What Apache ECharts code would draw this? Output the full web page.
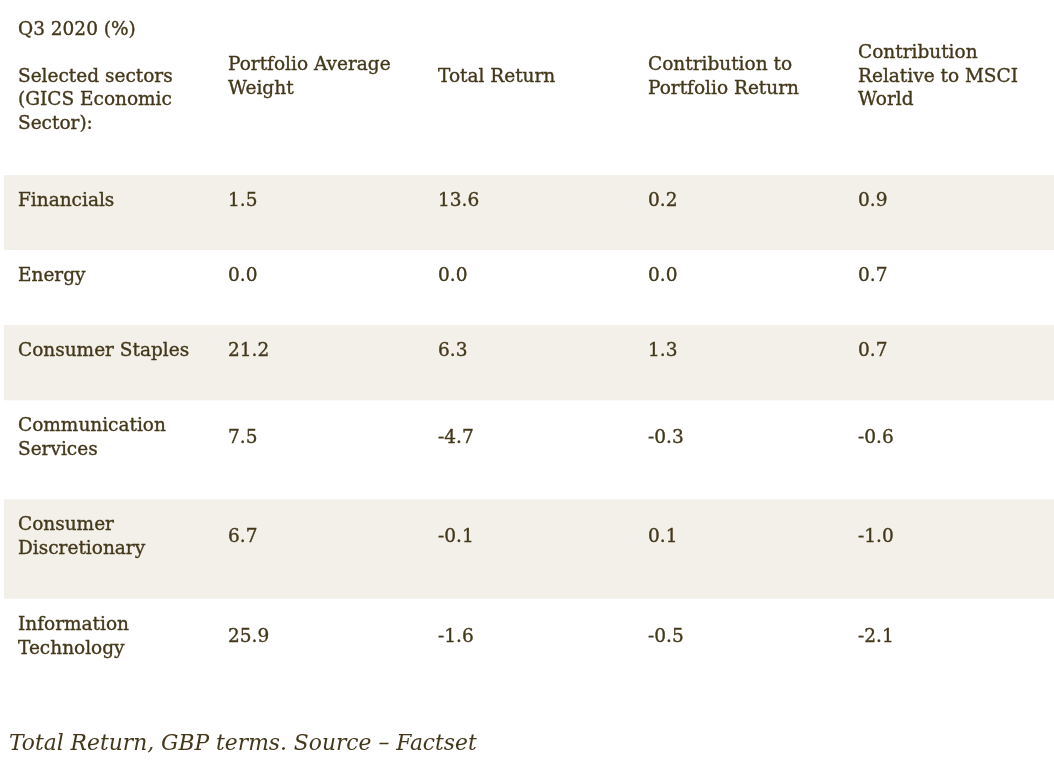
<!DOCTYPE html>
<html>
<head>
<meta charset="utf-8">
<script src="https://cdn.jsdelivr.net/npm/echarts@6/dist/echarts.min.js"></script>
<style>
html,body{margin:0;padding:0;background:#ffffff;}
#chart{width:1054px;height:774px;}
</style>
</head>
<body>
<div id="chart"></div>
<script>
// ---- data ----
const periodLabel = 'Q3 2020 (%)';
const columnHeaders = [
  'Selected sectors\n(GICS Economic\nSector):',
  'Portfolio Average\nWeight',
  'Total Return',
  'Contribution to\nPortfolio Return',
  'Contribution\nRelative to MSCI\nWorld'
];
const sectors = [
  'Financials',
  'Energy',
  'Consumer Staples',
  'Communication\nServices',
  'Consumer\nDiscretionary',
  'Information\nTechnology'
];
const avgWeight          = [1.5, 0.0, 21.2, 7.5, 6.7, 25.9];
const totalReturn        = [13.6, 0.0, 6.3, -4.7, -0.1, -1.6];
const contribToPortfolio = [0.2, 0.0, 1.3, -0.3, 0.1, -0.5];
const contribRelative    = [0.9, 0.7, 0.7, -0.6, -1.0, -2.1];
const footnote = 'Total Return, GBP terms. Source \u2013 Factset';

// ---- styling ----
const FONT = '"DejaVu Serif", serif';
const INK = '#43371a';
const BAND = '#f3f0e9';
const FS = 18.5;
const LH = 24;
const HEAD_LH = 23.5;
const PAD_X = 14;
const PAD_TOP = 14;
const STROKE = 0.35;

const nCols = columnHeaders.length;
const lineCount = s => s.split('\n').length;
const rowUnits = sectors.map(s => lineCount(s) + 2.1);
let acc = 0;
const rowStart = rowUnits.map(u => { const s = acc; acc += u; return s; });
const totalUnits = acc;

const valueCols = [avgWeight, totalReturn, contribToPortfolio, contribRelative];
const tableData = sectors.map((s, i) => [i, rowStart[i], rowUnits[i]]);
const headerData = columnHeaders.map((h, c) => [c]);

const textBase = {
  fill: INK, fontFamily: FONT, fontSize: FS,
  stroke: INK, lineWidth: STROKE
};

const chart = echarts.init(document.getElementById('chart'), null, {renderer: 'canvas'});
chart.setOption({
  animation: false,
  backgroundColor: '#ffffff',
  title: {
    text: footnote,
    left: 9,
    top: 730,
    padding: 0,
    textStyle: {
      fontFamily: FONT, fontStyle: 'italic', fontWeight: 'normal',
      fontSize: 21.8, color: INK, lineHeight: 28
    }
  },
  grid: {left: 4, right: -6, top: 175, bottom: 76},
  xAxis: {type: 'value', min: 0, max: nCols, show: false},
  yAxis: {type: 'value', min: 0, max: totalUnits, inverse: true, show: false},
  series: [
    {
      type: 'custom',
      silent: true,
      data: tableData,
      renderItem(params, api) {
        const i = api.value(0);
        const y0 = api.coord([0, api.value(1)])[1];
        const y1 = api.coord([0, api.value(1) + api.value(2)])[1];
        const cs = params.coordSys;
        const children = [];
        if (i % 2 === 0) {
          children.push({
            type: 'rect',
            shape: {x: cs.x, y: y0, width: cs.width, height: y1 - y0},
            style: {fill: BAND}
          });
        }
        const lines = lineCount(sectors[i]);
        children.push({
          type: 'text',
          style: Object.assign({}, textBase, {
            text: sectors[i],
            x: api.coord([0, 0])[0] + PAD_X,
            y: y0 + PAD_TOP,
            lineHeight: LH,
            align: 'left', verticalAlign: 'top'
          })
        });
        const midY = y0 + PAD_TOP + lines * LH / 2;
        valueCols.forEach((arr, k) => {
          children.push({
            type: 'text',
            style: Object.assign({}, textBase, {
              text: arr[i].toFixed(1),
              x: api.coord([k + 1, 0])[0] + PAD_X,
              y: midY,
              align: 'left', verticalAlign: 'middle'
            })
          });
        });
        return {type: 'group', children};
      }
    },
    {
      type: 'custom',
      silent: true,
      data: headerData,
      renderItem(params, api) {
        const c = api.value(0);
        const cs = params.coordSys;
        const txt = c === 0 ? periodLabel + '\n\n' + columnHeaders[0] : columnHeaders[c];
        return {
          type: 'text',
          style: Object.assign({}, textBase, {
            text: txt,
            x: api.coord([c, 0])[0] + PAD_X,
            y: cs.y - 98,
            lineHeight: HEAD_LH,
            align: 'left', verticalAlign: 'middle'
          })
        };
      }
    }
  ]
});
</script>
</body>
</html>
